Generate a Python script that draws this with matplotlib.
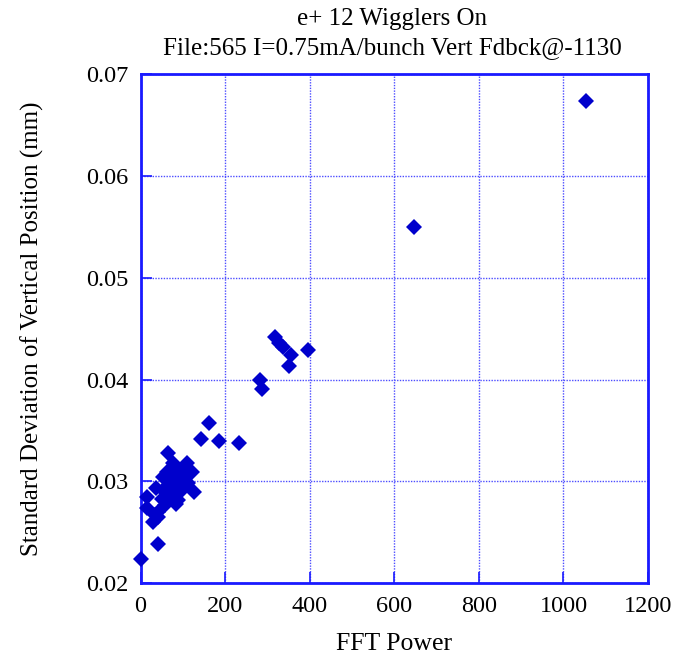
import matplotlib
matplotlib.use("Agg")
import matplotlib.pyplot as plt

plt.rcParams['font.family'] = ['Liberation Serif', 'DejaVu Serif']

# FFT power vs. std dev of vertical position
fft_power = [1053, 647,
             318, 328, 338, 356, 350, 397, 283, 287,
             162, 142, 186, 233,
             66, 76, 109, 62, 121, 84, 100,
             54, 78, 101, 90, 70, 93, 113,
             54, 78, 97, 127, 50, 70, 89,
             58, 85, 42, 34, 30, 42,
             37, 15, 15, 41, 2]
std_dev = [0.0674, 0.0550,
           0.0442, 0.0436, 0.0432, 0.0424, 0.0413, 0.0429, 0.0400, 0.0391,
           0.0357, 0.0342, 0.0340, 0.0338,
           0.0328, 0.0318, 0.0318, 0.0309, 0.0309, 0.0312, 0.0313,
           0.0304, 0.0304, 0.0304, 0.0308, 0.0298, 0.0298, 0.0298,
           0.0291, 0.0291, 0.0291, 0.0289, 0.0283, 0.0285, 0.0282,
           0.0277, 0.0278, 0.0270, 0.0267, 0.0260, 0.0265,
           0.0293, 0.0285, 0.0274, 0.0238, 0.0224]

x_ticks = [0, 200, 400, 600, 800, 1000, 1200]
y_ticks = [0.02, 0.03, 0.04, 0.05, 0.06, 0.07]

blue = '#1a1aff'

fig = plt.figure(figsize=(6.73, 6.59), dpi=100)
ax = fig.add_axes([0.2088, 0.1153, 0.7541, 0.7717])

ax.plot(fft_power, std_dev, 'D', color='#0000cc', markersize=7.8, markeredgewidth=0,
        clip_on=False, zorder=3)

ax.set_xlim(0, 1200)
ax.set_ylim(0.02, 0.07)
ax.set_xticks(x_ticks)
ax.set_yticks(y_ticks)
ax.set_xticklabels([str(t) for t in x_ticks])
ax.set_yticklabels(['%.2f' % t for t in y_ticks])

ax.grid(True, color='#4d4dff', linestyle=(0, (1, 1)), linewidth=1.0)
ax.set_axisbelow(True)
for s in ax.spines.values():
    s.set_color(blue)
    s.set_linewidth(2)
ax.tick_params(direction='in', length=8, width=1.2, color=blue,
               labelsize=17.5, pad=9, top=False, right=False)

ax.set_xlabel('FFT Power', fontsize=18.5, labelpad=12)
ax.set_ylabel('Standard Deviation of Vertical Position (mm)', fontsize=18, labelpad=30)
fig.text(0.583, 0.988, 'e+ 12 Wigglers On\nFile:565 I=0.75mA/bunch Vert Fdbck@-1130',
         fontsize=18, ha='center', va='top', linespacing=1.4)

fig.savefig('out.png', dpi=100)
